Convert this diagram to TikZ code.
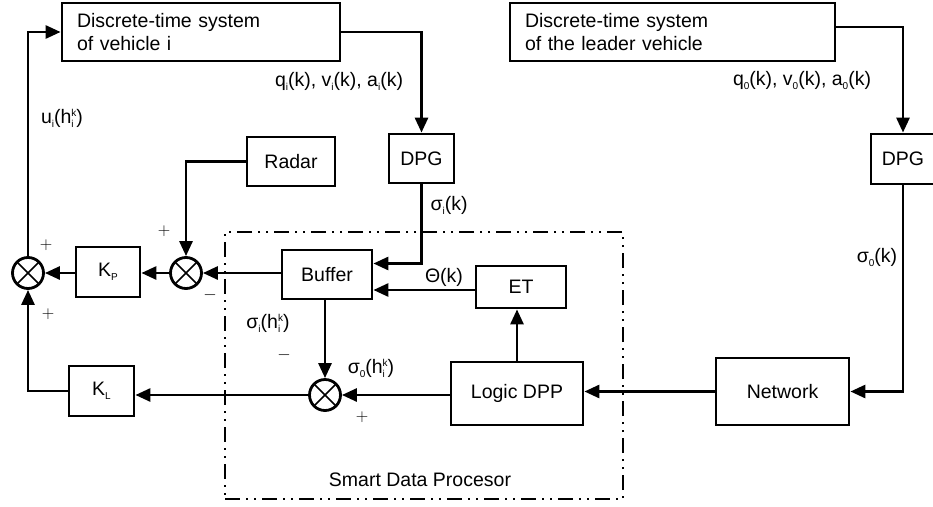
\documentclass[tikz,border=0pt]{standalone}
\usepackage{fontspec}
\setmainfont{Liberation Sans}
\usetikzlibrary{arrows.meta}
\newcommand\sbs[1]{\raisebox{-4pt}{\fontsize{10}{10}\selectfont #1}}
\newcommand\hik{h\raisebox{-4pt}{\fontsize{10}{11}\selectfont\begin{tabular}[b]{@{}l@{}}k\\i\end{tabular}}}
\begin{document}
\begin{tikzpicture}[x=1pt,y=-1pt,
  every node/.style={font=\fontsize{19.5}{23}\selectfont},
  blk/.style={draw,line width=2.8pt,inner sep=0pt},
  sumn/.style={draw,circle,line width=2.8pt,minimum size=31pt,inner sep=0pt,
    path picture={\draw[line width=1.5pt] (path picture bounding box.north west)--(path picture bounding box.south east) (path picture bounding box.south west)--(path picture bounding box.north east);}},
  arr/.style={line width=2.8pt,-{Triangle[length=15pt,width=13pt]}},
  lbl/.style={inner sep=0pt},
  sgn/.style={inner sep=0pt,font=\fontsize{17}{17}\selectfont},
  sdpbox/.style={draw,line width=2.6pt,inner sep=0pt,dash pattern=on 15pt off 6pt on 2pt off 6pt on 2pt off 6pt}]
\useasboundingbox (0,0) rectangle (933,506);

% Smart data processor frame
\node[sdpbox,minimum width=398pt,minimum height=267pt] (sdp) at (424,365.5) {};
\node (lsdp) at (420,480) {Smart Data Procesor};

% blocks
\node[blk,minimum height=58pt,text width=248pt,inner xsep=15pt,align=left] (sysi) at (201,32) {Discrete-time system\\of vehicle i};
\node[blk,minimum height=58pt,text width=295pt,inner xsep=15pt,align=left] (lead) at (672.5,32) {Discrete-time system\\of the leader vehicle};
\node[blk,minimum width=65pt,minimum height=49pt] (dpg1) at (421.5,158.5) {DPG};
\node[blk,minimum width=64pt,minimum height=50pt] (dpg2) at (903,159) {DPG};
\node[blk,minimum width=88pt,minimum height=49pt] (radar) at (291,161.5) {Radar};
\node[blk,minimum width=90pt,minimum height=49pt] (buf) at (327,274.5) {Buffer};
\node[blk,minimum width=90pt,minimum height=42pt] (et) at (521,287) {ET};
\node[blk,minimum width=132pt,minimum height=63pt] (logic) at (517,393.5) {Logic DPP};
\node[blk,minimum width=133pt,minimum height=67pt] (net) at (782.5,391.5) {Network};
\node[blk,minimum width=64pt,minimum height=50pt] (kp) at (108,272) {K\sbs{P}};
\node[blk,minimum width=65pt,minimum height=50pt] (kl) at (101.5,391) {K\sbs{L}};
\node[sumn] (s1) at (28,273) {};
\node[sumn] (s2) at (186,273) {};
\node[sumn] (s3) at (325,395) {};

% connectors
\draw[arr] (sysi.east) -| (dpg1.north);
\draw[arr] ([yshift=5pt]lead.east) -| (dpg2.north);
\draw[arr] (dpg1.south) |- ([yshift=11pt]buf.east);
\draw[arr] ([yshift=-3pt]et.west) -- ([yshift=-3pt]et.west -| buf.east);
\draw[arr] (radar.west) -| (s2.north);
\draw[arr] (buf.west |- s2.east) -- (s2.east);
\draw[arr] (s2.west) -- (kp.east |- s2.west);
\draw[arr] (kp.west |- s1.east) -- (s1.east);
\draw[arr] (s1.north) |- (sysi.west);
\draw[arr] (kl.west) -| (s1.south);
\draw[arr] (buf.south -| s3.north) -- (s3.north);
\draw[arr] (logic.north) -- (logic.north |- et.south);
\draw[arr] (dpg2.south) |- (net.east);
\draw[arr] (net.west) -- (net.west -| logic.east);
\draw[arr] (logic.west |- s3.east) -- (s3.east);
\draw[arr] (s3.west) -- (s3.west -| kl.east);

% labels
\node[lbl] (lq) at (339,81) {q\sbs{i}(k), v\sbs{i}(k), a\sbs{i}(k)};
\node[lbl] (lq0) at (802,80) {q\sbs{0}(k), v\sbs{0}(k), a\sbs{0}(k)};
\node[lbl] (lu) at (62,120) {u\sbs{i}(\hik)};
\node[lbl] (lsi) at (449,205) {σ\sbs{i}(k)};
\node[lbl] (ls0) at (877,257) {σ\sbs{0}(k)};
\node[lbl] (lth) at (444,277) {Θ(k)};
\node[lbl] (lsih) at (268,325) {σ\sbs{i}(\hik)};
\node[lbl] (ls0h) at (371,370) {σ\sbs{0}(\hik)};

% signs
\node[sgn] (p1) at (46,245) {$+$};
\node[sgn] (p2) at (48,314) {$+$};
\node[sgn] (p3) at (164,231) {$+$};
\node[sgn] (m1) at (210,295) {$-$};
\node[sgn] (m2) at (284,355) {$-$};
\node[sgn] (p4) at (362,417) {$+$};
\end{tikzpicture}
\end{document}
